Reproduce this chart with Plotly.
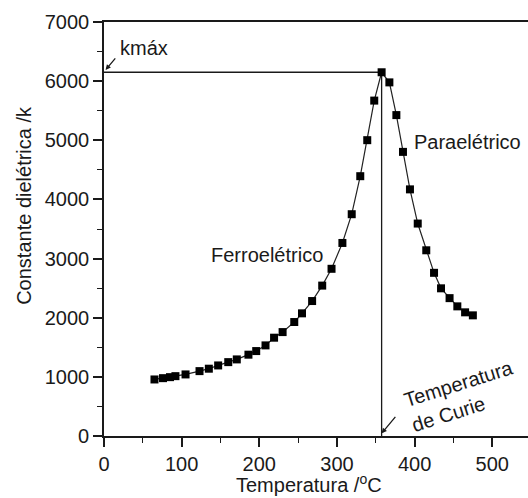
import plotly.graph_objects as go

# Dielectric constant vs temperature (ferroelectric -> paraelectric transition)
temperature = [65, 76, 85, 92, 105, 123, 135, 147, 160, 171, 186, 196, 208, 219,
               230, 245, 255, 268, 281, 293, 307, 319, 330, 339, 348, 357.5,
               367.5, 376.5, 385, 394, 404, 415, 425, 434, 445, 455, 465, 475]
permittivity = [956, 978, 995, 1012, 1041, 1097, 1138, 1193, 1249, 1295, 1375, 1436,
                1532, 1662, 1757, 1927, 2074, 2282, 2543, 2827, 3264, 3750, 4393,
                5002, 5671, 6150, 5979, 5426, 4804, 4170, 3592, 3140, 2759, 2497,
                2331, 2192, 2091, 2040]

x_ticks = [0, 100, 200, 300, 400, 500]
y_ticks = [0, 1000, 2000, 3000, 4000, 5000, 6000, 7000]

# Peak of the curve: Curie temperature and maximum dielectric constant
k_max = max(permittivity)
curie_temp = temperature[permittivity.index(k_max)]

INK = "#1a1a1a"
FONT = "Liberation Sans, Arial, sans-serif"
FS = 20

fig = go.Figure()
fig.add_trace(go.Scatter(
    x=temperature, y=permittivity, mode="lines+markers",
    line=dict(color="#222222", width=1.2),
    marker=dict(symbol="square", size=8, color="#000000"),
    showlegend=False, hoverinfo="skip",
))

# Guide lines marking k_max and the Curie temperature
fig.add_shape(type="line", x0=0, x1=curie_temp, y0=k_max, y1=k_max,
              line=dict(color=INK, width=1.3), layer="below")
fig.add_shape(type="line", x0=curie_temp, x1=curie_temp, y0=0, y1=k_max,
              line=dict(color=INK, width=1.3), layer="below")

axis_common = dict(
    showline=True, linecolor=INK, linewidth=1.6,
    ticks="outside", ticklen=9, tickwidth=1.5, tickcolor=INK,
    showgrid=False, zeroline=False,
    tickfont=dict(family=FONT, size=FS, color=INK),
)

fig.update_xaxes(range=[0, 546], tickvals=x_ticks, mirror=True,
                 minor=dict(ticks="outside", dtick=50, ticklen=5, tickwidth=1.3, tickcolor=INK),
                 **axis_common)
fig.update_yaxes(range=[0, 7000], tickvals=y_ticks, mirror=False,
                 minor=dict(ticks="outside", dtick=500, ticklen=5, tickwidth=1.3, tickcolor=INK),
                 **axis_common)

txt = dict(family=FONT, size=FS, color=INK)
annotations = [
    # axis titles
    dict(text="Temperatura /<sup>o</sup>C", xref="paper", yref="paper",
         x=0.4835, y=-0.149, showarrow=False, font=txt,
         xanchor="center", yanchor="bottom"),
    dict(text="Constante dielétrica /k", xref="paper", yref="paper",
         x=-0.189, y=0.558, showarrow=False, font=txt, textangle=-90,
         xanchor="center", yanchor="middle"),
    # labels
    dict(text="kmáx", x=52, y=6560, showarrow=False, font=txt),
    dict(text="", x=2, y=6190, ax=11, ay=-13, showarrow=True,
         arrowhead=2, arrowsize=0.8, arrowwidth=1.3, arrowcolor=INK),
    dict(text="Paraelétrico", x=468, y=4974, showarrow=False, font=txt),
    dict(text="Ferroelétrico", x=210, y=3056, showarrow=False, font=txt),
    dict(text="Temperatura<br>de Curie", x=462, y=675, showarrow=False,
         font=txt, textangle=-17.5, align="left",
         xanchor="center", yanchor="middle"),
    dict(text="", x=curie_temp, y=45, ax=15, ay=-18, showarrow=True,
         arrowhead=2, arrowsize=0.8, arrowwidth=1.3, arrowcolor=INK),
]

fig.update_layout(
    width=528, height=498,
    margin=dict(l=104, r=0, t=22, b=62),
    paper_bgcolor="white", plot_bgcolor="white",
    font=txt,
    annotations=annotations,
)

fig.write_html("out.html")
